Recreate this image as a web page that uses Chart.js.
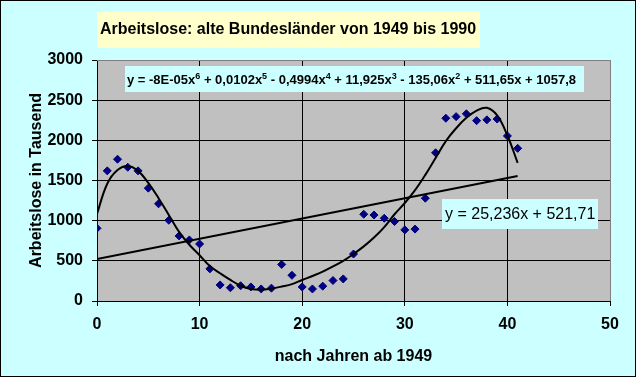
<!DOCTYPE html>
<html>
<head>
<meta charset="utf-8">
<script src="https://cdn.jsdelivr.net/npm/chart.js@4"></script>
<style>
  html, body { margin: 0; padding: 0; background: #ccffff; }
  canvas { display: block; }
</style>
</head>
<body>
<canvas id="chart" width="636" height="377"></canvas>
<script>
// years after 1949 (x) and unemployed in thousands (y)
const years = [0, 1, 2, 3, 4, 5, 6, 7, 8, 9, 10, 11, 12, 13, 14, 15, 16, 17, 18, 19, 20,
               21, 22, 23, 24, 25, 26, 27, 28, 29, 30, 31, 32, 33, 34, 35, 36, 37, 38, 39, 40, 41];
const unemployed = [905, 1620, 1765, 1665, 1620, 1405, 1210, 1005, 810, 760, 710, 400, 200, 165,
                    190, 175, 150, 160, 455, 320, 175, 150, 185, 255, 275, 585, 1080, 1070, 1030,
                    990, 885, 895, 1280, 1845, 2275, 2295, 2330, 2245, 2255, 2265, 2055, 1900];
// polynomial trendline at each year
const polyTrend = [1085, 1460, 1630, 1680, 1620, 1470, 1280, 1070, 860, 700, 570, 435, 345, 262,
                   190, 150, 140, 155, 180, 210, 262, 311, 365, 430, 500, 585, 680, 790, 920,
                   1080, 1220, 1380, 1570, 1780, 1990, 2150, 2280, 2370, 2405, 2310, 2060, 1720];
// linear trendline end points
const linYears = [0, 41];
const linTrend = [521.71, 1556.4];

const titleText = "Arbeitslose: alte Bundesländer von 1949 bis 1990";
const yTitle = "Arbeitslose in Tausend";
const xTitle = "nach Jahren ab 1949";
const linLabel = "y = 25,236x + 521,71";
// [text, superscript?]
const polyLabel = [["y = -8E-05x", false], ["6", true], [" + 0,0102x", false], ["5", true],
                   [" - 0,4994x", false], ["4", true], [" + 11,925x", false], ["3", true],
                   [" - 135,06x", false], ["2", true], [" + 511,65x + 1057,8", false]];

const FONT = "'Liberation Sans', Arial, sans-serif";

const toXY = (xs, ys) => xs.map((x, i) => ({x: x, y: ys[i]}));

const decor = {
    id: "decor",
    beforeDraw(chart) {
        const ctx = chart.ctx, a = chart.chartArea;
        ctx.save();
        ctx.fillStyle = "#ccffff";
        ctx.fillRect(0, 0, chart.width, chart.height);
        ctx.strokeStyle = "#000";
        ctx.lineWidth = 1;
        ctx.strokeRect(0.5, 0.5, chart.width - 1, chart.height - 1);
        ctx.fillStyle = "#c0c0c0";
        ctx.fillRect(a.left, a.top, a.right - a.left, a.bottom - a.top);
        // title box
        ctx.fillStyle = "#ffffcc";
        ctx.fillRect(97, 11, 383, 37);
        ctx.fillStyle = "#000";
        ctx.font = "bold 16px " + FONT;
        ctx.textAlign = "center";
        ctx.textBaseline = "middle";
        ctx.fillText(titleText, 288, 30);
        ctx.restore();
    },
    afterDraw(chart) {
        const ctx = chart.ctx, a = chart.chartArea;
        ctx.save();
        // gray border top / right of plot
        ctx.strokeStyle = "#808080";
        ctx.lineWidth = 1;
        ctx.beginPath();
        ctx.moveTo(a.left, a.top + 0.5);
        ctx.lineTo(a.right + 0.5, a.top + 0.5);
        ctx.lineTo(a.right + 0.5, a.bottom);
        ctx.stroke();

        // polynomial equation
        ctx.fillStyle = "#ccffff";
        ctx.fillRect(125, 66, 459, 26);
        ctx.fillStyle = "#000";
        ctx.textBaseline = "alphabetic";
        ctx.textAlign = "left";
        let x = 127;
        polyLabel.forEach(([t, sup]) => {
            ctx.font = sup ? "bold 9px " + FONT : "bold 13px " + FONT;
            ctx.fillText(t, x, sup ? 79 : 84);
            x += ctx.measureText(t).width;
        });

        // linear equation
        ctx.fillStyle = "#ccffff";
        ctx.fillRect(442, 199, 156, 30);
        ctx.fillStyle = "#000";
        ctx.font = "16px " + FONT;
        ctx.textBaseline = "middle";
        ctx.fillText(linLabel, 445, 215);
        ctx.restore();
    }
};

new Chart("chart", {
    type: "scatter",
    data: {
        datasets: [
            {
                data: toXY(years, polyTrend),
                showLine: true,
                borderColor: "#000",
                borderWidth: 2,
                pointRadius: 0,
                tension: 0.4,
                fill: false
            },
            {
                data: toXY(linYears, linTrend),
                showLine: true,
                borderColor: "#000",
                borderWidth: 2,
                pointRadius: 0,
                fill: false
            },
            {
                data: toXY(years, unemployed),
                pointStyle: "rectRot",
                pointRadius: 4,
                backgroundColor: "#000080",
                borderColor: "#000080",
                borderWidth: 1
            }
        ]
    },
    options: {
        responsive: false,
        animation: false,
        devicePixelRatio: 1,
        layout: { padding: { top: 60, right: 26, left: 0, bottom: 0 } },
        plugins: { legend: { display: false }, tooltip: { enabled: false } },
        scales: {
            x: {
                type: "linear",
                min: 0, max: 50,
                afterFit: s => { s.height = 76; },
                ticks: { stepSize: 10, color: "#000", padding: 9, callback: v => String(v),
                         font: { family: FONT, size: 16, weight: "bold" } },
                grid: {
                    color: c => (c.tick && c.tick.value === 50 ? "#808080" : "#000"),
                    tickColor: "#000",
                    tickLength: 5,
                    lineWidth: 1
                },
                border: { color: "#000", width: 1 },
                title: { display: true, text: xTitle, color: "#000", padding: { top: 0, bottom: 11 },
                         font: { family: FONT, size: 16, weight: "bold" } }
            },
            y: {
                min: 0, max: 3000,
                afterFit: s => { s.width = 97; },
                ticks: { stepSize: 500, color: "#000", padding: 9, callback: v => String(v),
                         font: { family: FONT, size: 16, weight: "bold" } },
                grid: {
                    color: c => (c.tick && c.tick.value === 3000 ? "#808080" : "#000"),
                    tickColor: "#000",
                    tickLength: 5,
                    lineWidth: 1
                },
                border: { color: "#000", width: 1 },
                title: { display: true, text: yTitle, color: "#000", padding: { top: 27, bottom: 0 },
                         font: { family: FONT, size: 16, weight: "bold" } }
            }
        }
    },
    plugins: [decor]
});
</script>
</body>
</html>
